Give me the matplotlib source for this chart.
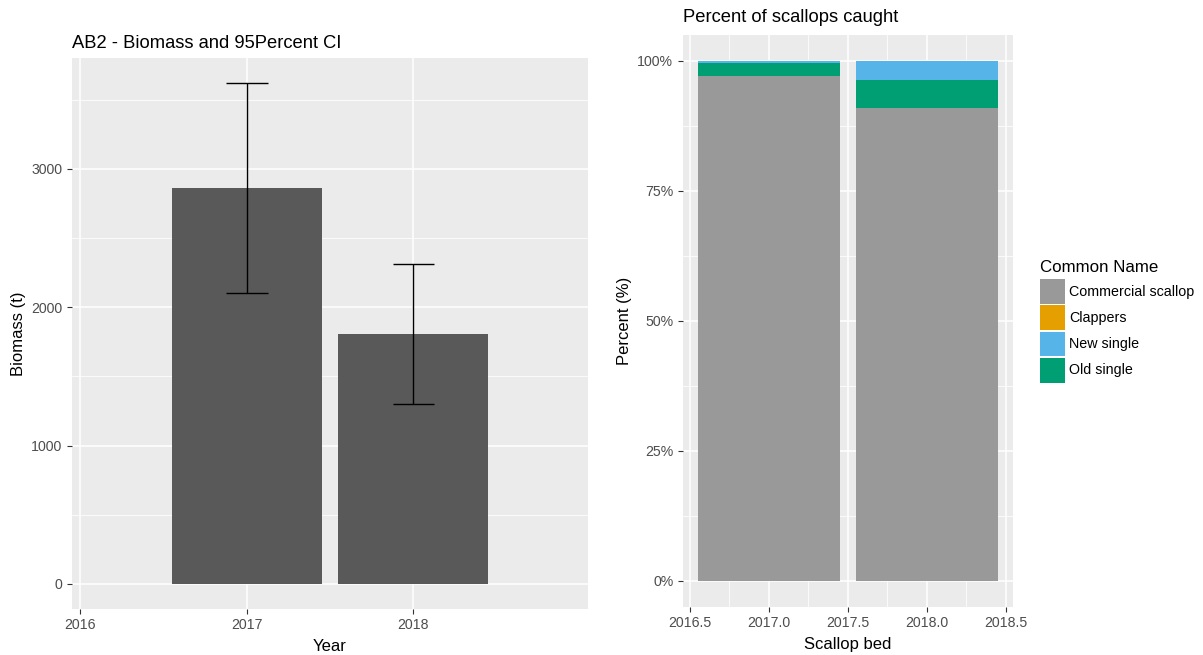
import matplotlib
matplotlib.use("Agg")
import matplotlib.pyplot as plt
from matplotlib.patches import Rectangle
from matplotlib.ticker import FixedLocator, FuncFormatter
import numpy as np

plt.rcParams['font.family'] = ['Liberation Sans', 'DejaVu Sans']

# ---- data ----
years = [2017, 2018]
biomass = [2865, 1805]
ci_lower = [2105, 1300]
ci_upper = [3620, 2310]

beds = [2017, 2018]
species = ["Commercial scallop", "Clappers", "New single", "Old single"]
pct_commercial = [97.2, 90.9]
pct_clappers = [0.0, 0.0]
pct_new = [0.35, 3.6]
pct_old = [2.45, 5.5]
colors = {"Commercial scallop": "#999999", "Clappers": "#E69F00",
          "New single": "#56B4E9", "Old single": "#009E73"}

left_xticks = [2016, 2017, 2018]
left_yticks = [0, 1000, 2000, 3000]
right_xticks = [2016.5, 2017.0, 2017.5, 2018.0, 2018.5]
right_yticks = [0, 25, 50, 75, 100]

W, H = 1203, 655
fig = plt.figure(figsize=(W / 100, H / 100), dpi=100)

def axes_px(l, t, r, b):
    return fig.add_axes([l / W, 1 - b / H, (r - l) / W, (b - t) / H])

BG = "#EBEBEB"
TICKC = "#4D4D4D"
TICKFS = 10.2
AXFS = 12

def style(ax):
    ax.set_facecolor(BG)
    for s in ax.spines.values():
        s.set_visible(False)
    ax.set_axisbelow(True)
    ax.grid(True, which="major", color="white", lw=1.1)
    ax.grid(True, which="minor", color="white", lw=0.55)
    ax.tick_params(which="major", length=3.8, width=0.8, color="#333333",
                   labelcolor=TICKC, labelsize=TICKFS, pad=3)
    ax.tick_params(which="minor", length=0)

# ---- left panel ----
ax1 = axes_px(72, 57.6, 588, 609)
style(ax1)
ax1.bar(years, biomass, width=0.9, color="#595959", zorder=2)
ax1.vlines(years, ci_lower, ci_upper, color="black", lw=1.0, zorder=3)
yr = np.array(years, dtype=float)
ax1.hlines(ci_upper, yr - 0.125, yr + 0.125, color="black", lw=1.0, zorder=3)
ax1.hlines(ci_lower, yr - 0.125, yr + 0.125, color="black", lw=1.0, zorder=3)
ax1.set_xlim(2015.952, 2019.047)
ax1.set_ylim(-181, 3804)
ax1.xaxis.set_major_locator(FixedLocator(left_xticks))
ax1.yaxis.set_major_locator(FixedLocator(left_yticks))
ax1.yaxis.set_minor_locator(FixedLocator([500, 1500, 2500, 3500]))
ax1.set_xlabel("Year", fontsize=AXFS, labelpad=4.5)
ax1.set_ylabel("Biomass (t)", fontsize=AXFS, labelpad=4)
ax1.set_title("AB2 - Biomass and 95Percent CI", fontsize=13.2, loc="left", pad=7)

# ---- right panel ----
ax2 = axes_px(682.7, 35, 1012.7, 607)
style(ax2)
bottom = np.zeros(len(beds))
stack = [("Commercial scallop", pct_commercial), ("Clappers", pct_clappers),
         ("Old single", pct_old), ("New single", pct_new)]
for name, vals in stack:
    ax2.bar(beds, vals, width=0.9, bottom=bottom, color=colors[name], zorder=2)
    bottom = bottom + np.array(vals)
ax2.set_xlim(2016.455, 2018.545)
ax2.set_ylim(-5, 105)
ax2.xaxis.set_major_locator(FixedLocator(right_xticks))
ax2.xaxis.set_minor_locator(FixedLocator([2016.75, 2017.25, 2017.75, 2018.25]))
ax2.yaxis.set_major_locator(FixedLocator(right_yticks))
ax2.yaxis.set_minor_locator(FixedLocator([12.5, 37.5, 62.5, 87.5]))
ax2.xaxis.set_major_formatter(FuncFormatter(lambda v, p: f"{v:.1f}"))
ax2.yaxis.set_major_formatter(FuncFormatter(lambda v, p: f"{v:.0f}%"))
ax2.set_xlabel("Scallop bed", fontsize=AXFS, labelpad=4.5)
ax2.set_ylabel("Percent (%)", fontsize=AXFS, labelpad=4)
ax2.set_title("Percent of scallops caught", fontsize=13.2, loc="left", pad=9)

# ---- legend (drawn manually, ggplot style) ----
key_l, key_w, key_h, key_step, key_top = 1040, 25, 24.7, 26.2, 279.3
fig.text(key_l / W, 1 - 267 / H, "Common Name", fontsize=12.2,
         ha="left", va="center")
for i, s in enumerate(species):
    top = key_top + i * key_step
    fig.patches.append(Rectangle((key_l / W, 1 - (top + key_h) / H),
                                 key_w / W, key_h / H, transform=fig.transFigure,
                                 facecolor=colors[s], edgecolor="none"))
    fig.text(1069 / W, 1 - (top + key_h / 2) / H, s, fontsize=10.3,
             ha="left", va="center")

fig.savefig("out.png", dpi=100)
